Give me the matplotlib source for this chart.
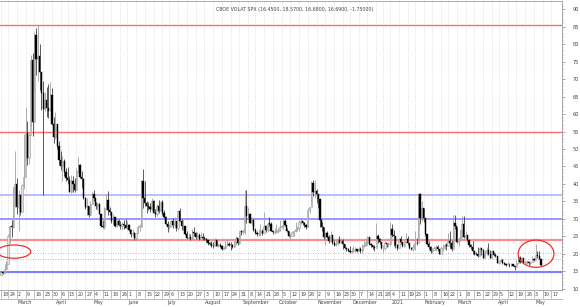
import numpy as np
import pandas as pd
import matplotlib
matplotlib.use("Agg")
import matplotlib.pyplot as plt
from matplotlib.patches import Ellipse
from matplotlib.lines import Line2D
import matplotlib.transforms as mtransforms

# Daily VIX candles, 18 Feb 2020 .. 7 May 2021 (one line per month)
first_open = 14.0
closes = [
    14.8, 14.4, 15.6, 17.1, 25.0, 27.9, 27.6, 39.2, 40.1,
    33.4, 36.8, 32.0, 39.6, 41.9, 54.5, 47.3, 53.9, 75.5, 57.8, 82.7, 75.9, 76.5, 72.0, 66.0, 61.6, 64.0, 61.7, 61.0, 65.5, 57.1, 53.5,
    57.1, 50.9, 46.8, 45.2, 46.7, 43.4, 41.7, 41.2, 37.8, 40.8, 40.1, 38.2, 43.8, 45.4, 42.0, 41.4, 35.9, 33.3, 33.6, 31.2, 34.2,
    37.2, 36.0, 33.6, 34.1, 31.4, 28.0, 27.6, 33.0, 35.3, 32.6, 31.9, 29.3, 30.5, 28.0, 29.5, 28.2, 27.9, 28.6, 28.1, 27.5,
    28.2, 26.8, 25.7, 25.8, 24.5, 25.8, 27.6, 27.6, 40.8, 36.1, 34.4, 33.7, 33.5, 32.9, 35.1, 31.8, 31.4, 33.8, 32.2, 34.7, 31.8, 30.4,
    28.6, 27.7, 27.9, 29.4, 28.1, 29.3, 27.3, 32.2, 29.5, 27.8, 28.0, 25.7, 24.5, 24.8, 24.3, 26.1, 25.8, 24.7, 25.4, 24.1, 24.8, 24.5,
    24.3, 23.8, 23.0, 22.7, 22.2, 22.1, 24.0, 22.3, 22.6, 22.1, 21.4, 21.5, 22.5, 22.7, 22.5, 22.4, 22.0, 23.3, 24.5, 23.0, 26.4,
    26.1, 26.6, 33.6, 30.8, 31.5, 28.8, 29.7, 26.9, 25.9, 25.6, 26.0, 26.5, 25.8, 27.8, 26.9, 28.6, 28.5, 26.4, 26.2, 26.3, 26.4,
    26.7, 27.6, 28.0, 29.5, 28.1, 26.4, 25.0, 25.1, 26.1, 26.4, 27.0, 27.4, 29.2, 29.4, 28.7, 28.1, 27.6, 32.5, 33.4, 40.3, 37.6, 38.0,
    37.1, 35.6, 29.6, 27.6, 24.9, 25.8, 24.8, 23.5, 25.4, 23.1, 22.5, 22.7, 23.8, 23.1, 23.7, 22.7, 21.6, 21.3, 20.8, 20.6,
    20.8, 21.2, 21.3, 20.8, 21.3, 20.7, 22.3, 22.5, 23.3, 24.7, 22.9, 22.5, 21.9, 21.6, 25.2, 24.2, 23.3, 21.5, 21.7, 23.1, 22.8, 22.8,
    27.0, 25.3, 25.1, 22.4, 21.6, 24.1, 23.3, 22.2, 23.3, 24.3, 23.2, 21.6, 21.3, 21.9, 23.2, 23.0, 37.2, 30.2, 33.1,
    30.2, 25.6, 22.9, 21.8, 20.9, 21.2, 21.6, 22.0, 21.3, 20.0, 21.5, 21.5, 22.5, 22.1, 23.5, 23.1, 21.3, 28.9, 28.0,
    23.4, 24.1, 26.7, 28.6, 24.7, 25.5, 24.0, 22.6, 21.9, 20.7, 20.0, 19.8, 19.2, 21.6, 21.0, 18.9, 20.3, 21.2, 19.8, 18.9, 20.7, 19.6, 19.4,
    17.3, 17.9, 18.1, 17.2, 17.0, 16.7, 16.9, 16.7, 17.0, 16.6, 16.3, 17.3, 18.7, 17.5, 18.7, 17.3, 17.6, 17.6, 17.3, 17.6, 18.6,
    18.3, 19.5, 19.2, 18.4, 16.7,
]
highs = [
    15.0, 14.9, 17.1, 17.8, 25.6, 28.0, 29.7, 39.2, 49.5,
    41.6, 38.2, 36.9, 40.0, 54.4, 62.1, 57.9, 54.5, 76.8, 77.6, 83.6, 84.8, 85.5, 80.1, 71.2, 69.6, 66.4, 67.7, 68.6, 69.3, 67.5, 59.3,
    60.6, 57.2, 52.3, 49.4, 47.9, 47.0, 44.5, 44.7, 42.2, 42.6, 42.2, 41.8, 44.6, 47.7, 45.8, 43.7, 41.6, 36.2, 36.1, 33.7, 35.1,
    37.6, 38.2, 34.9, 34.9, 34.4, 30.6, 29.6, 33.4, 37.2, 38.0, 33.3, 30.4, 31.3, 29.2, 30.2, 29.8, 29.4, 29.1, 29.6, 29.9,
    29.4, 28.4, 27.0, 27.1, 26.3, 25.9, 28.1, 28.6, 41.1, 44.4, 40.9, 35.0, 34.7, 34.5, 36.0, 35.5, 32.7, 34.2, 35.3, 35.1, 35.3, 32.6,
    30.8, 29.4, 28.6, 29.6, 30.3, 30.5, 29.5, 32.2, 33.0, 29.9, 29.7, 28.0, 26.4, 25.9, 25.7, 27.1, 27.6, 26.2, 26.3, 25.9, 26.1, 26.0,
    25.1, 24.6, 23.9, 23.3, 23.6, 23.3, 24.6, 24.0, 23.1, 23.0, 22.6, 22.3, 23.6, 24.0, 23.4, 23.3, 22.9, 23.6, 25.1, 24.6, 26.6,
    26.9, 27.0, 38.3, 38.3, 33.3, 31.8, 30.6, 29.9, 27.4, 26.5, 27.0, 28.6, 27.2, 31.9, 28.1, 29.1, 30.6, 29.2, 26.7, 27.4, 28.4,
    27.3, 29.7, 28.3, 30.1, 29.9, 27.4, 26.4, 26.0, 26.5, 26.7, 29.0, 27.8, 29.7, 30.0, 29.4, 29.2, 28.5, 33.2, 33.5, 40.8, 41.1, 41.2,
    38.4, 36.8, 35.7, 29.1, 27.7, 26.2, 26.4, 25.3, 26.4, 25.3, 23.9, 23.8, 24.5, 25.1, 24.4, 24.2, 22.9, 22.0, 21.5, 22.2,
    21.6, 22.1, 21.8, 21.4, 21.8, 21.8, 22.8, 23.6, 24.4, 25.1, 24.9, 23.0, 22.6, 22.4, 28.8, 25.7, 24.6, 23.2, 22.5, 23.5, 23.2, 23.3,
    29.2, 28.6, 26.8, 23.5, 22.8, 24.6, 25.1, 23.3, 23.5, 25.9, 25.1, 23.0, 21.9, 22.8, 26.6, 24.6, 37.5, 37.5, 35.0,
    33.2, 28.4, 25.5, 23.7, 22.1, 21.6, 22.3, 22.5, 22.6, 21.4, 22.3, 22.9, 23.1, 23.2, 25.9, 26.4, 23.9, 31.2, 31.2,
    27.6, 24.9, 26.8, 30.9, 30.9, 26.6, 25.4, 24.0, 22.7, 23.5, 20.9, 20.5, 22.0, 21.9, 21.6, 21.4, 21.2, 22.0, 23.1, 21.1, 21.0, 20.6, 20.3,
    19.4, 18.2, 18.7, 18.5, 17.6, 17.2, 17.6, 17.4, 17.3, 16.9, 16.7, 18.1, 19.2, 19.3, 19.0, 18.5, 18.0, 18.1, 18.0, 17.9, 19.2,
    18.8, 22.7, 20.7, 20.7, 18.6,
]
lows = [
    14.0, 14.1, 14.4, 15.6, 19.9, 23.1, 24.8, 27.5, 33.5,
    31.5, 26.4, 31.1, 32.2, 38.6, 47.2, 45.4, 45.6, 56.6, 53.6, 67.0, 71.2, 69.4, 66.9, 61.1, 36.8, 61.0, 59.3, 58.9, 64.9, 56.9, 51.8,
    52.8, 49.9, 45.5, 43.9, 40.9, 42.4, 40.8, 40.1, 37.6, 37.4, 37.7, 37.7, 40.1, 43.2, 41.6, 38.7, 35.6, 32.7, 31.1, 30.5, 31.0,
    34.2, 35.0, 32.9, 32.4, 31.3, 27.6, 27.3, 27.2, 32.4, 31.1, 31.2, 28.9, 28.4, 27.7, 27.6, 28.0, 27.0, 26.8, 27.0, 27.3,
    27.0, 26.4, 24.7, 25.0, 23.9, 24.0, 25.8, 26.5, 28.0, 33.0, 33.6, 31.6, 32.6, 32.0, 32.4, 31.6, 30.4, 30.7, 31.8, 32.1, 31.2, 30.2,
    28.2, 26.2, 27.2, 27.6, 27.4, 27.3, 26.6, 26.8, 29.4, 26.9, 26.9, 25.5, 24.3, 23.8, 24.0, 24.2, 25.2, 24.2, 24.5, 24.0, 24.2, 23.8,
    23.8, 23.4, 22.6, 22.5, 21.8, 21.6, 22.1, 22.1, 21.9, 21.8, 21.0, 21.3, 21.3, 22.3, 22.1, 21.2, 21.6, 22.0, 22.4, 22.5, 22.7,
    25.4, 25.7, 25.7, 28.9, 29.9, 28.7, 28.2, 26.4, 25.7, 25.1, 25.1, 25.1, 25.4, 26.0, 26.3, 26.1, 27.8, 26.4, 25.7, 25.6, 26.0,
    25.8, 26.6, 27.4, 27.1, 27.9, 26.2, 24.9, 24.0, 25.3, 25.1, 26.3, 26.6, 26.5, 28.4, 28.1, 27.7, 27.2, 27.9, 31.7, 34.8, 36.4, 36.0,
    34.4, 33.0, 27.6, 26.5, 24.3, 22.4, 24.4, 23.2, 23.5, 22.8, 22.1, 22.3, 22.4, 23.0, 23.0, 21.3, 21.3, 20.9, 20.7, 20.1,
    20.3, 20.5, 20.6, 20.5, 20.7, 20.3, 20.2, 21.8, 22.3, 22.6, 22.5, 22.0, 21.4, 20.9, 24.4, 23.0, 22.8, 21.3, 20.6, 21.2, 22.0, 21.9,
    22.1, 24.7, 22.1, 21.5, 21.0, 22.6, 22.9, 21.9, 22.0, 23.0, 22.6, 21.3, 21.2, 20.8, 21.2, 22.5, 24.0, 28.4, 29.3,
    29.2, 25.2, 22.6, 21.4, 20.3, 20.3, 21.1, 20.7, 20.9, 19.8, 20.1, 20.8, 21.3, 21.1, 22.4, 21.6, 20.9, 22.1, 27.0,
    23.0, 22.3, 23.6, 24.4, 24.4, 24.3, 23.5, 21.9, 21.4, 20.0, 19.6, 19.6, 19.0, 19.5, 19.7, 18.7, 19.2, 19.5, 19.5, 18.8, 18.8, 19.2, 19.0,
    17.3, 17.0, 17.5, 17.1, 16.7, 16.6, 16.7, 16.3, 16.5, 16.4, 15.4, 16.7, 17.0, 17.4, 17.5, 17.2, 17.2, 17.1, 16.9, 16.8, 17.9,
    17.9, 18.9, 18.7, 18.4, 16.45,
]

holidays = ['2020-04-10', '2020-05-25', '2020-07-03', '2020-09-07', '2020-11-26',
            '2020-12-25', '2021-01-01', '2021-01-18', '2021-02-15', '2021-04-02']
month_names = ['March', 'April', 'May', 'June', 'July', 'August', 'September', 'October',
               'November', 'December', '2021', 'February', 'March', 'April', 'May']

# horizontal levels drawn on the chart
red_levels = [85.5, 54.9, 24.0]
blue_levels = [36.8, 29.9, 14.7]
dotted_levels = [20.1, 18.4]

title = "CBOE VOLAT SPX (16.4500, 18.5700, 16.6800, 16.6900, -1.75000)"

# trading days (axis runs one week past the last candle)
days = pd.bdate_range('2020-02-18', '2021-05-21', freq='C', holidays=holidays)
n = len(closes)
x = np.arange(n)
c = np.array(closes)
h = np.array(highs)
l = np.array(lows)
o = np.concatenate([[first_open], c[:-1]])

fig = plt.figure(figsize=(5.8, 3.07), dpi=100)
ax = fig.add_axes([0, 17/307, 562/580, 289/307])

down = c < o
up = ~down
body_lo = np.minimum(o, c)
body_h = np.maximum(np.abs(c - o), 0.2)

ax.vlines(x[up], l[up], h[up], color='#a0a0a0', lw=0.6, zorder=3)
ax.vlines(x[down], l[down], h[down], color='#404040', lw=0.6, zorder=3)
ax.bar(x[up], body_h[up], bottom=body_lo[up], width=0.7, color='#e0e0e0',
       edgecolor='#9a9a9a', linewidth=0.4, zorder=4)
ax.bar(x[down], body_h[down], bottom=body_lo[down], width=0.7, color='black',
       edgecolor='black', linewidth=0.3, zorder=4)

ax.axhline(red_levels[0], color='#ff6b6b', lw=1.0, zorder=2)
ax.axhline(red_levels[1], color='#ff6b6b', lw=1.0, zorder=2)
ax.axhline(red_levels[2], color='#ff8c8c', lw=1.6, zorder=2)
ax.axhline(blue_levels[0], color='#b4b8ff', lw=1.3, zorder=2)
ax.axhline(blue_levels[1], color='#7a7aff', lw=1.1, zorder=2)
ax.axhline(blue_levels[2], color='#8080ff', lw=1.5, zorder=2)
for lv in dotted_levels:
    ax.axhline(lv, color='#ff8080', lw=0.6, ls=(0, (1, 2)), zorder=2)

ax.add_patch(Ellipse((7.4, 20.6), 19.0, 3.8, fill=False, ec='#ee3030', lw=0.9, zorder=5))
ax.add_patch(Ellipse((305.2, 20.0), 20.4, 7.8, fill=False, ec='#ee3030', lw=0.9, zorder=5))

ax.set_xlim(-0.6, 320)
ax.set_ylim(9.6, 92.4)

# y axis on the right
ax.yaxis.tick_right()
ax.set_yticks(np.arange(10, 91, 5))
ax.set_yticks(np.arange(10, 92, 1), minor=True)
ax.tick_params(axis='y', which='major', length=2.5, width=0.4, color='#666666',
               labelsize=3.6, labelcolor='#444444', pad=5)
ax.tick_params(axis='y', which='minor', length=1.2, width=0.3, color='#888888')

# weekly date labels
iso = days.isocalendar()
wk = iso['week'].values
week_pos = [i for i in range(len(days)) if i == 0 or wk[i] != wk[i - 1]]
week_lab = [str(days[i].day) for i in week_pos]
ax.set_xticks(week_pos)
ax.set_xticklabels(week_lab)
ax.tick_params(axis='x', length=6, width=0.4, color='#888888', direction='out',
               labelsize=3.4, labelcolor='#444444', pad=-4.8)
offset = mtransforms.ScaledTranslation(1.2/100, 0, fig.dpi_scale_trans)
for lab in ax.get_xticklabels():
    lab.set_horizontalalignment('left')
    lab.set_transform(lab.get_transform() + offset)
ax.grid(axis='x', color='#c8c8c8', lw=0.5, ls=(0, (1, 2)))

month_pos = [i for i in range(1, len(days)) if days[i].month != days[i - 1].month]
for pos, name in zip(month_pos, month_names):
    ax.text(pos + 0.6, -0.042, name, transform=ax.get_xaxis_transform(),
            fontsize=3.4, color='#444444', ha='left', va='center')

fig.add_artist(Line2D([0, 562/580], [8.5/307, 8.5/307], color='#888888', lw=0.4))

ax.spines['left'].set_visible(False)
for side in ['top', 'bottom', 'right']:
    ax.spines[side].set_color('#888888')
    ax.spines[side].set_linewidth(0.5)

fig.text(295/580, 1 - 9/307, title, fontsize=3.4, color='#444444', ha='center', va='center')

fig.savefig('out.png', dpi=100)
